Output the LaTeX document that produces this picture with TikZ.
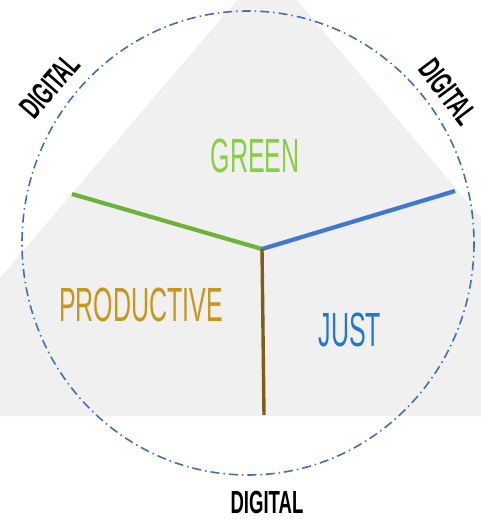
\documentclass[tikz,border=0pt]{standalone}
\usepackage{fontspec}
\setmainfont{Liberation Sans}
\newfontfamily\condl[FakeStretch=0.52]{Liberation Sans}
\newfontfamily\condb[FakeStretch=0.58]{Liberation Sans}
\definecolor{bggray}{RGB}{240,240,240}
\definecolor{circblue}{RGB}{70,110,180}
\definecolor{lgreen}{RGB}{110,178,60}
\definecolor{lblue}{RGB}{62,120,210}
\definecolor{lbrown}{RGB}{128,94,20}
\definecolor{tgreen}{RGB}{140,205,70}
\definecolor{tgold}{RGB}{200,150,25}
\definecolor{tblue}{RGB}{40,118,198}
\tikzset{
  pillar/.style={line width=4.2pt},
  biglabel/.style={inner sep=0pt, font=\condl\fontsize{48}{48}\selectfont},
  diglabel/.style={inner sep=0pt, font=\condb\bfseries\fontsize{32}{32}\selectfont, text=black}
}
\begin{document}
\begin{tikzpicture}[x=1pt,y=-1pt]
\useasboundingbox (0,0) rectangle (481,519);
% background shape
\fill[bggray] (237,0) -- (297,0) -- (481,218) -- (481,416) -- (0,416) -- (0,278) -- cycle;
% circle
\draw[circblue, line width=1.6pt, dash pattern=on 9pt off 4pt on 1.5pt off 4pt]
  (248,243) ellipse [x radius=226, y radius=232];
% center and ends
\coordinate (c) at (262,249);
\coordinate (gend) at (72,194);
\coordinate (bend) at (455,191);
\coordinate (pend) at (264,415);
\draw[pillar, lgreen] (c) -- (gend);
\draw[pillar, lblue] (c) -- (bend);
\draw[line width=3.4pt, lbrown] (c) -- (pend);
% labels
\node[biglabel, text=tgreen] (green) at (255,156) {GREEN};
\node[biglabel, text=tgold] (prod) at (141,305) {PRODUCTIVE};
\node[biglabel, text=tblue] (just) at (350,330) {JUST};
\node[diglabel] (dbot) at (267,502) {DIGITAL};
\node[diglabel, rotate=49] (dleft) at (50,86) {DIGITAL};
\node[diglabel, rotate=-53] (dright) at (448,92) {DIGITAL};
\end{tikzpicture}
\end{document}
